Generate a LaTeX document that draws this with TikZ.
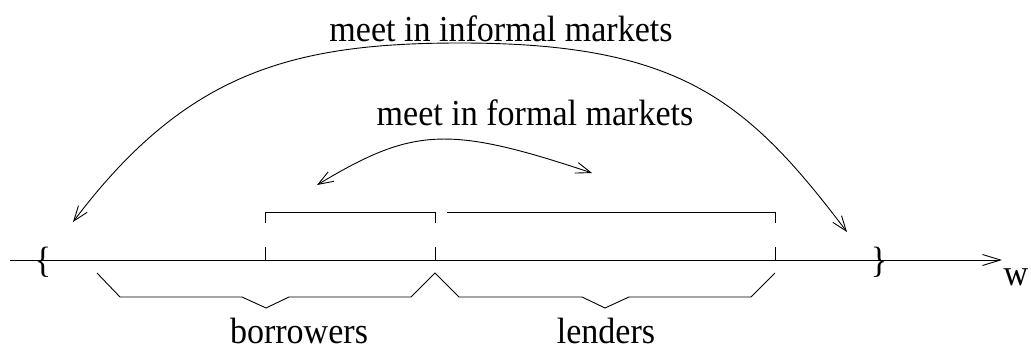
\documentclass[tikz,border=0pt]{standalone}
\usepackage{fontspec}
\setmainfont{Liberation Serif}[FakeStretch=0.93]
\usetikzlibrary{arrows.meta}
\tikzset{
  lbl/.style={anchor=base, inner sep=0pt, font=\fontsize{36.6}{40}\selectfont},
  ln/.style={line width=0.9pt, line join=miter},
  arc/.style={ln, {Straight Barb[length=15pt,width=11pt]}-{Straight Barb[length=15pt,width=11pt]}},
  axis/.style={ln, -{Straight Barb[length=18pt,width=11pt]}}
}
\begin{document}
\begin{tikzpicture}[x=1pt,y=-1pt]
\useasboundingbox (0,0) rectangle (1031,351);
% axis
\coordinate (a0) at (10,260);
\coordinate (a1) at (1002,260);
\draw[axis] (a0) -- (a1);
\node[lbl] (w) at (1016,285) {w};
\node[lbl] (lb) at (43,272) {\{};
\node[lbl] (rb) at (879,272) {\}};
% upper brackets
\coordinate (p1) at (265,212);
\coordinate (p2) at (435,212);
\coordinate (p3) at (447,212);
\coordinate (p4) at (775,212);
\draw[ln] (265,223) -- (p1) -- (p2) -- (435,223);
\draw[ln] (p3) -- (p4) -- (775,223);
\draw[ln] (265,247) -- (265,260);
\draw[ln] (435,247) -- (435,260);
\draw[ln] (775,247) -- (775,260);
% lower braces
\draw[ln] (97,273) -- (120,297) -- (242,297) -- (266,308) -- (289,297) -- (411,297)
  -- (435,273) -- (459,297) -- (582,297) -- (605,308) -- (629,297) -- (751,297) -- (775,273);
\node[lbl] (bor) at (299,343) {borrowers};
\node[lbl] (len) at (606,343) {lenders};
% arcs
\coordinate (oL) at (73,222);
\coordinate (oT) at (460,43);
\coordinate (oR) at (847,232);
\draw[arc] (oL) .. controls (185,73.5) and (290,43) .. (oT)
  .. controls (680,43) and (747,100) .. (oR);
\node[lbl] (inf) at (501,41) {meet in informal markets};
\coordinate (iL) at (317,185);
\coordinate (iR) at (592,173);
\draw[arc] (iL) .. controls (413,127.4) and (448,125) .. (iR);
\node[lbl] (form) at (535,125) {meet in formal markets};
\end{tikzpicture}
\end{document}
